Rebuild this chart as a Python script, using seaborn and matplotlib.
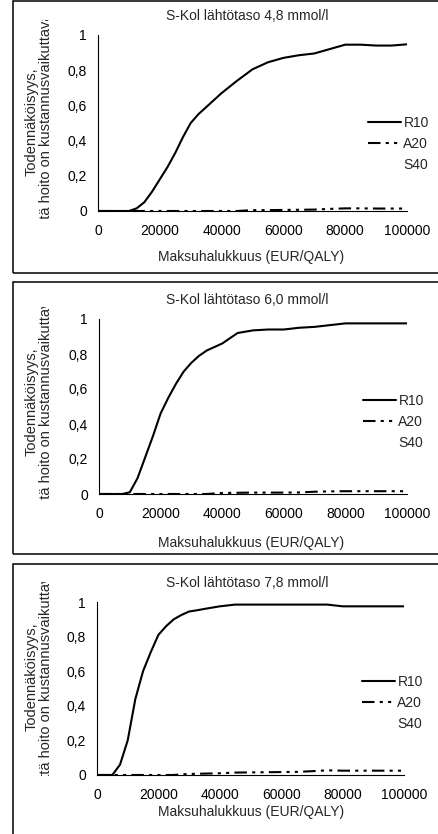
import matplotlib
matplotlib.use("Agg")
import matplotlib.pyplot as plt
import seaborn as sns
from matplotlib.patches import Rectangle
from matplotlib.transforms import Bbox, TransformedBbox

# ---------------- data ----------------
wtp = [0, 5000, 7500, 10000, 12500, 15000, 17500, 20000, 22500, 25000,
       27500, 30000, 32500, 35000, 40000, 45000, 50000, 55000, 60000, 65000,
       70000, 75000, 80000, 85000, 90000, 95000, 100000]

r10_48 = [0, 0, 0, 0, 0.015, 0.05, 0.11, 0.18, 0.25, 0.33,
          0.42, 0.50, 0.55, 0.59, 0.67, 0.74, 0.805, 0.845, 0.87, 0.885,
          0.895, 0.92, 0.945, 0.945, 0.94, 0.94, 0.947]
a20_48 = [0, 0, 0, 0, 0, 0, 0, 0, 0, 0,
          0, 0, 0, 0, 0, 0, 0.005, 0.005, 0.006, 0.007,
          0.008, 0.012, 0.015, 0.015, 0.014, 0.014, 0.014]
s40_48 = [0] * 27

r10_60 = [0, 0, 0, 0.01, 0.09, 0.21, 0.33, 0.46, 0.55, 0.63,
          0.70, 0.75, 0.79, 0.82, 0.86, 0.92, 0.935, 0.94, 0.94, 0.95,
          0.955, 0.965, 0.975, 0.975, 0.975, 0.975, 0.975]
a20_60 = [0, 0, 0, 0, 0, 0, 0, 0, 0, 0,
          0, 0, 0, 0, 0.006, 0.007, 0.008, 0.008, 0.008, 0.009,
          0.013, 0.015, 0.016, 0.016, 0.016, 0.016, 0.016]
s40_60 = [0] * 27

r10_78 = [0, 0, 0.06, 0.20, 0.44, 0.60, 0.71, 0.81, 0.86, 0.90,
          0.925, 0.945, 0.952, 0.96, 0.975, 0.985, 0.985, 0.985, 0.985, 0.985,
          0.985, 0.985, 0.975, 0.975, 0.975, 0.975, 0.975]
a20_78 = [0, 0, 0, 0, 0, 0, 0, 0, 0, 0,
          0.004, 0.006, 0.007, 0.008, 0.010, 0.014, 0.015, 0.016, 0.017, 0.018,
          0.022, 0.027, 0.025, 0.025, 0.025, 0.025, 0.025]
s40_78 = [0] * 27

titles = ["S-Kol lähtötaso 4,8 mmol/l",
          "S-Kol lähtötaso 6,0 mmol/l",
          "S-Kol lähtötaso 7,8 mmol/l"]
series_names = ["R10", "A20", "S40"]
x_ticks = [0, 20000, 40000, 60000, 80000, 100000]
x_tick_labels = ["0", "20000", "40000", "60000", "80000", "100000"]
y_ticks = [0, 0.2, 0.4, 0.6, 0.8, 1.0]
y_tick_labels = ["0", "0,2", "0,4", "0,6", "0,8", "1"]
x_label = "Maksuhalukkuus (EUR/QALY)"
y_label = "Todennäköisyys,\nettä hoito on kustannusvaikuttava"

panels_data = [(r10_48, a20_48, s40_48),
               (r10_60, a20_60, s40_60),
               (r10_78, a20_78, s40_78)]

# ---------------- layout (pixels) ----------------
W, H = 438, 834
layouts = [
    dict(box=(13, 1, 273), ax=(98, 35, 407, 211), title_y=16, xlabel_y=257,
         ylab_y=122, clip=(20, 219), leg_y=144, leg_x=368),
    dict(box=(13, 282, 554), ax=(99, 319, 407, 494), title_y=300, xlabel_y=543,
         ylab_y=402, clip=(307, 500), leg_y=422, leg_x=363),
    dict(box=(13, 564, 900), ax=(97, 602, 404, 775), title_y=583, xlabel_y=812,
         ylab_y=677, clip=(582, 776), leg_y=703, leg_x=362),
]

sns.set_style("white")
plt.rcParams["font.family"] = ["Liberation Sans", "DejaVu Sans"]

fig = plt.figure(figsize=(W / 100, H / 100), dpi=100)


def fx(px):
    return px / W


def fy(py):
    return 1 - py / H


styles = [dict(color="black", linestyle="-"),
          dict(color="black", linestyle=(0, (6, 2.5, 1.5, 2.5, 1.5, 2.5))),
          dict(color="white", linestyle="-")]

FS = 10

for data, title, lay in zip(panels_data, titles, layouts):
    bx, btop, bbot = lay["box"]
    fig.add_artist(Rectangle((fx(bx), fy(bbot)), fx(460) - fx(bx), fy(btop) - fy(bbot),
                             transform=fig.transFigure, fill=False,
                             edgecolor="black", linewidth=1.1, clip_on=False))
    l, t, r, b = lay["ax"]
    ax = fig.add_axes([fx(l), fy(b), fx(r) - fx(l), fy(t) - fy(b)])
    for vals, name, st in zip(data, series_names, styles):
        sns.lineplot(x=wtp, y=vals, ax=ax, linewidth=1.5, label=name,
                     zorder=2 if name != "S40" else 1, **st)
    ax.set_xlim(0, 100000)
    ax.set_ylim(0, 1)
    ax.set_xticks(x_ticks)
    ax.set_xticklabels(x_tick_labels)
    ax.set_yticks(y_ticks)
    ax.set_yticklabels(y_tick_labels)
    ax.set_xlabel("")
    ax.set_ylabel("")
    for s in ["top", "right"]:
        ax.spines[s].set_visible(False)
    for s in ["left", "bottom"]:
        ax.spines[s].set_color("black")
        ax.spines[s].set_linewidth(0.8)
    ax.tick_params(axis="both", direction="out", length=3, width=0.8,
                   colors="black", labelsize=FS)
    ax.tick_params(axis="x", pad=6.5)
    ax.tick_params(axis="y", pad=5)
    ax.patch.set_visible(False)

    handles, labels = ax.get_legend_handles_labels()
    ax.legend(handles, labels, loc="center left",
              bbox_to_anchor=(fx(lay["leg_x"]), fy(lay["leg_y"])),
              bbox_transform=fig.transFigure, frameon=False, fontsize=FS,
              handlelength=2.4, handletextpad=0.15, labelspacing=0.5,
              borderpad=0, borderaxespad=0)

    fig.text(fx(247), fy(lay["title_y"]), title, ha="center", va="center",
             fontsize=FS)
    fig.text(fx(251), fy(lay["xlabel_y"]), x_label, ha="center", va="center",
             fontsize=FS)
    yl = fig.text(fx(39), fy(lay["ylab_y"]), y_label, rotation=90,
                  ha="center", va="center", multialignment="center",
                  fontsize=10.5, linespacing=1.05)
    c0, c1 = lay["clip"]
    yl.set_clip_box(TransformedBbox(Bbox.from_extents(0, fy(c1), 1, fy(c0)),
                                    fig.transFigure))
    yl.set_clip_on(True)

fig.savefig("out.png", dpi=100)
